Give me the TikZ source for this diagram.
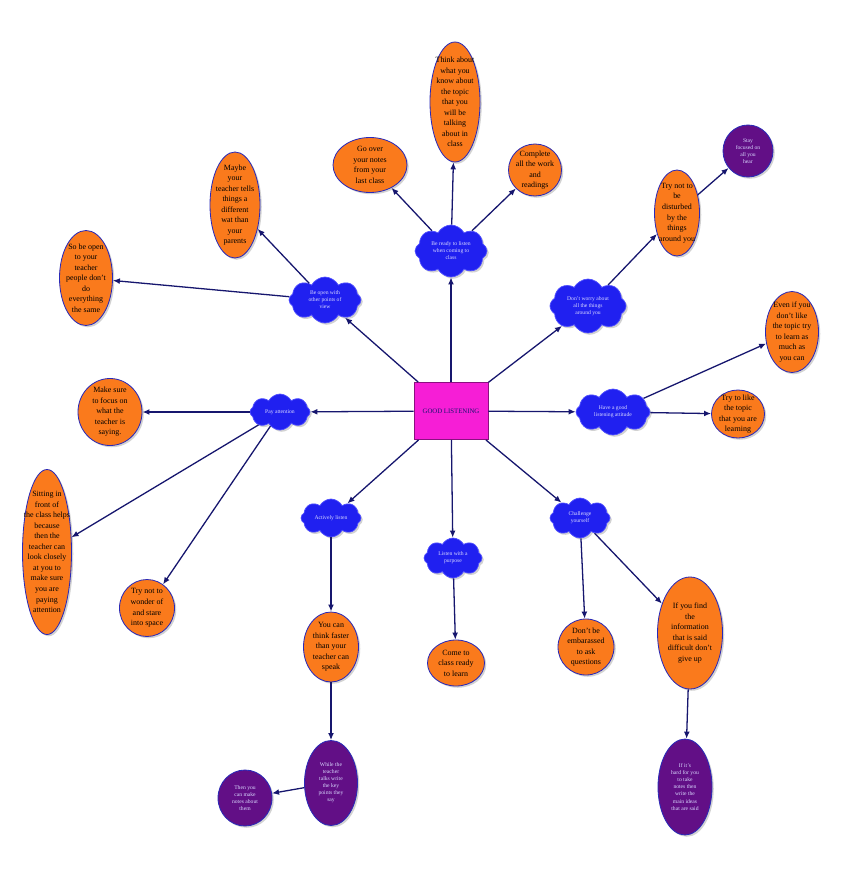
\documentclass[tikz,border=0pt]{standalone}
\usepackage{fontspec}
\setmainfont{Liberation Serif}
\usetikzlibrary{shapes.symbols,shapes.geometric,arrows.meta,shadows}
\definecolor{orangeF}{HTML}{FA7A1C}
\definecolor{edgeB}{HTML}{2A2AB8}
\definecolor{cloudF}{HTML}{2020F0}
\definecolor{cloudB}{HTML}{5050FF}
\definecolor{purpF}{HTML}{620F86}
\definecolor{navy}{HTML}{16166E}
\definecolor{magF}{HTML}{F61ED6}
\definecolor{magB}{HTML}{8A1080}
\tikzset{
 sz/.style 2 args={minimum width=#1*0.03cm, minimum height=#2*0.03cm},
 shad/.style={drop shadow={shadow xshift=1.5pt,shadow yshift=-1.5pt,fill=black!35}},
 ov/.style={ellipse, draw=edgeB, line width=0.7pt, fill=orangeF, inner sep=0pt, shad},
 pov/.style={ov, fill=purpF},
 cl/.style={cloud, cloud puffs=8, cloud puff arc=125, draw=cloudB, fill=cloudF, line width=0.6pt, inner sep=0pt, shad},
 otxt/.style={font=\fontsize{6.8}{9}\selectfont, align=center, text=black, inner sep=0pt},
 wtxt/.style={font=\fontsize{4.8}{6}\selectfont, align=center, text=white!85!blue, inner sep=0pt},
 arr/.style={draw=navy, line width=1.1pt, -{Latex[length=6pt,width=5pt]}},
 rect/.style={rectangle, draw=magB, line width=0.8pt, fill=magF, inner sep=0pt, text=navy, font=\fontsize{5.8}{7}\selectfont},
}
\begin{document}
\begin{tikzpicture}[x=0.03cm,y=-0.03cm]
\path[use as bounding box, fill=white] (0,0) rectangle (840,877);

% centre
\node[rect, sz={74}{57}] (c) at (451,411) {GOOD LISTENING};

% clouds
\node[cl, sz={72}{52}, label={[wtxt]center:{Be ready to listen\\when coming to\\class}}] (cT) at (451,251) {};
\node[cl, sz={72}{46}, label={[wtxt]center:{Be open with\\other points of\\view}}] (cUL) at (325,300) {};
\node[cl, sz={76}{54}, label={[wtxt]center:{Don't worry about\\all the things\\around you}}] (cUR) at (588,306) {};
\node[cl, sz={60}{36}, label={[wtxt]center:{Pay attention}}] (cL) at (280,412) {};
\node[cl, sz={74}{46}, label={[wtxt]center:{Have a good\\listening attitude}}] (cR) at (613,412) {};
\node[cl, sz={60}{38}, label={[wtxt]center:{Actively listen}}] (cLL) at (331,518) {};
\node[cl, sz={58}{40}, label={[wtxt]center:{Listen with a\\purpose}}] (cB) at (453,558) {};
\node[cl, sz={60}{40}, label={[wtxt]center:{Challenge\\yourself}}] (cLR) at (580,518) {};

% orange ellipses
\node[ov, sz={50}{120}, label={[otxt]center:{Think about\\what you\\know about\\the topic\\that you\\will be\\talking\\about in\\class}}] (a) at (455,102) {};
\node[ov, sz={74}{55}, label={[otxt]center:{Go over\\your notes\\from your\\last class}}] (b) at (370,165) {};
\node[ov, sz={53}{52}, label={[otxt]center:{Complete\\all the work\\and\\readings}}] (cc) at (535,170) {};
\node[ov, sz={50}{106}, label={[otxt]center:{Maybe\\your\\teacher tells\\things a\\different\\wat than\\your\\parents}}] (d) at (235,205) {};
\node[ov, sz={53}{95}, label={[otxt]center:{So be open\\to your\\teacher\\people don't\\do\\everything\\the same}}] (e) at (86,278) {};
\node[ov, sz={45}{86}, label={[otxt]center:{Try not to\\be\\disturbed\\by the\\things\\around you}}] (f) at (677,213) {};
\node[pov, sz={50}{52}, label={[wtxt]center:{Stay\\focused on\\all you\\hear}}] (g) at (748,151) {};
\node[ov, sz={53}{81}, label={[otxt]center:{Even if you\\don't like\\the topic try\\to learn as\\much as\\you can}}] (h) at (792,332) {};
\node[ov, sz={53}{48}, label={[otxt]center:{Try to like\\the topic\\that you are\\learning}}] (i) at (738,414) {};
\node[ov, sz={64}{67}, label={[otxt]center:{Make sure\\to focus on\\what the\\teacher is\\saying.}}] (j) at (110,412) {};
\node[ov, sz={49}{165}, label={[otxt]center:{Sitting in\\front of\\the class helps\\because\\then the\\teacher can\\look closely\\at you to\\make sure\\you are\\paying\\attention}}] (k) at (47,552) {};
\node[ov, sz={55}{57}, label={[otxt]center:{Try not to\\wonder of\\and stare\\into space}}] (l) at (147,608) {};
\node[ov, sz={55}{70}, label={[otxt]center:{You can\\think faster\\than your\\teacher can\\speak}}] (m) at (331,647) {};
\node[ov, sz={57}{46}, label={[otxt]center:{Come to\\class ready\\to learn}}] (n) at (456,663) {};
\node[ov, sz={56}{56}, label={[otxt]center:{Don't be\\embarassed\\to ask\\questions}}] (o) at (586,647) {};
\node[ov, sz={65}{112}, label={[otxt]center:{If you find\\the\\information\\that is said\\difficult don't\\give up}}] (p) at (690,633) {};

% purple ellipses
\node[pov, sz={53}{85}, label={[wtxt]center:{While the\\teacher\\talks write\\the key\\points they\\say}}] (q) at (331,783) {};
\node[pov, sz={54}{56}, label={[wtxt]center:{Then you\\can make\\notes about\\them}}] (r) at (245,798) {};
\node[pov, sz={54}{96}, label={[wtxt]center:{If it's\\hard for you\\to take\\notes then\\write the\\main ideas\\that are said}}] (s) at (685,787) {};

% connectors
\draw[arr] (c) -- (cT);
\draw[arr] (c) -- (cUL);
\draw[arr] (c) -- (cUR);
\draw[arr] (c) -- (cL);
\draw[arr] (c) -- (cR);
\draw[arr] (c) -- (cLL);
\draw[arr] (c) -- (cB);
\draw[arr] (c) -- (cLR);
\draw[arr] (cT) -- (a);
\draw[arr] (cT) -- (b);
\draw[arr] (cT) -- (cc);
\draw[arr] (cUL) -- (d);
\draw[arr] (cUL) -- (e);
\draw[arr] (cUR) -- (f);
\draw[arr] (f) -- (g);
\draw[arr] (cR) -- (h);
\draw[arr] (cR) -- (i);
\draw[arr] (cL) -- (j);
\draw[arr] (cL) -- (k);
\draw[arr] (cL) -- (l);
\draw[arr] (cLL) -- (m);
\draw[arr] (m) -- (q);
\draw[arr] (q) -- (r);
\draw[arr] (cB) -- (n);
\draw[arr] (cLR) -- (o);
\draw[arr] (cLR) -- (p);
\draw[arr] (p) -- (s);
\end{tikzpicture}
\end{document}
